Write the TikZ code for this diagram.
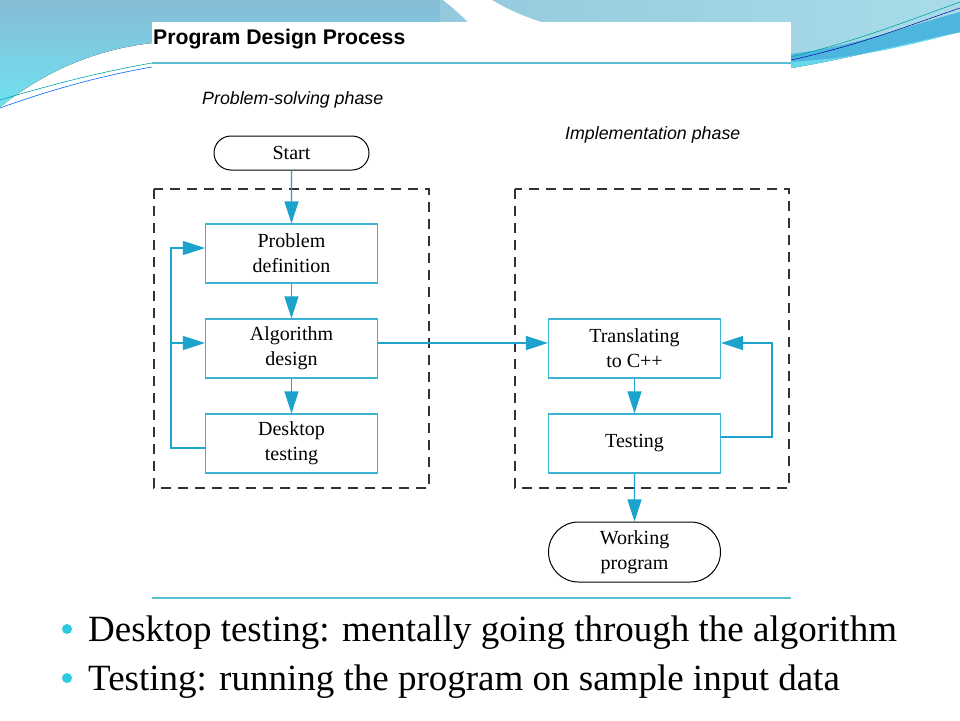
\documentclass[tikz,border=0pt]{standalone}
\usepackage{fontspec}
\setmainfont{Liberation Serif}
\setsansfont{Liberation Sans}
\usetikzlibrary{arrows.meta, positioning, shapes.misc}
\definecolor{mainCyan}{HTML}{1BA3CC}
\definecolor{boxCyan}{HTML}{3DB3D3}
\definecolor{ruleCyan}{HTML}{5BBFD3}
\definecolor{dashGray}{HTML}{333333}
\definecolor{skyTop}{HTML}{86BCD6}
\definecolor{skyLow}{HTML}{6FE2F0}
\definecolor{skyRight}{HTML}{A9DCE8}
\definecolor{bandBlue}{HTML}{4DB6DF}
\definecolor{bulletCyan}{HTML}{2CCBDD}

\tikzset{
  stepbox/.style={draw=boxCyan, line width=1.2pt, minimum width=172pt, minimum height=59pt,
    inner sep=0pt, align=center, font=\fontsize{20}{25}\selectfont},
  termbox/.style={draw=black, line width=1pt, rounded rectangle, inner sep=0pt,
    align=center, font=\fontsize{20}{25}\selectfont},
  flow/.style={draw=mainCyan, line width=1.2pt, -{Triangle[length=22pt,width=14pt]}},
  phasebox/.style={draw=dashGray, line width=1.3pt, dash pattern=on 10pt off 7pt},
  phaselabel/.style={anchor=base west, inner sep=0pt, font=\sffamily\itshape\fontsize{17.8}{20}\selectfont},
  notetext/.style={anchor=base west, inner sep=0pt, font=\fontsize{37}{40}\selectfont},
}

\begin{document}
\begin{tikzpicture}[x=1pt, y=-1pt, >=stealth]
    \useasboundingbox (0,0) rectangle (960,720);

    % slide background
    \fill[white] (0,0) rectangle (960,720);
    \fill[top color=skyTop, bottom color=skyLow] (0,0) -- (470,0) -- (470,60) -- (152,43)
        .. controls (90,50) and (40,75) .. (0,107) -- cycle;
    \fill[left color=skyTop!60!skyRight, right color=skyRight] (440,0) -- (960,0) -- (960,32)
        .. controls (900,45) and (840,60) .. (791,68) -- (440,68) -- cycle;
    \fill[bandBlue] (791,54) .. controls (860,45) and (910,25) .. (960,12) -- (960,32)
        .. controls (900,45) and (840,60) .. (791,68) -- cycle;
    \fill[skyLow!80!bandBlue] (791,62) .. controls (860,58) and (910,45) .. (960,32)
        .. controls (900,45) and (840,60) .. (791,68) -- cycle;
    \fill[white] (443,0) -- (492,0) .. controls (505,8) and (520,15) .. (541,22) -- (468,22)
        .. controls (460,14) and (452,7) .. (443,0) -- cycle;
    \draw[teal!70!cyan, line width=0.6pt] (0,100) .. controls (50,85) and (100,72) .. (152,63);
    \draw[blue!60!cyan, line width=0.6pt] (0,108) .. controls (50,90) and (100,76) .. (152,67);
    \draw[teal!70!cyan, line width=0.6pt] (791,57) .. controls (860,40) and (910,20) .. (960,2);
    \draw[blue!60!black, line width=0.5pt] (791,60) .. controls (860,45) and (910,25) .. (960,8);

    % figure area
    \fill[white] (152,22) rectangle (791,598);
    \draw[ruleCyan, line width=1.5pt] (152,63) -- (791,63);
    \draw[ruleCyan, line width=1.5pt] (152,598) -- (791,598);
    \node[anchor=base west, inner sep=0pt, font=\sffamily\bfseries\fontsize{21.2}{24}\selectfont]
        (title) at (153,44) {Program Design Process};
    \node[phaselabel] (phaseL) at (202,104) {Problem-solving phase};
    \node[phaselabel] (phaseR) at (565,139) {Implementation phase};

    \draw[phasebox] (154,189) rectangle (429,488);
    \draw[phasebox] (515,189) rectangle (789,488);

    \node[termbox, minimum width=155pt, minimum height=34pt] (start) at (291.5,153) {Start};
    \node[stepbox] (prob) at (291.5,253.5) {Problem\\definition};
    \node[stepbox] (alg) at (291.5,348.5) {Algorithm\\design};
    \node[stepbox] (desk) at (291.5,443.5) {Desktop\\testing};
    \node[stepbox] (trans) at (634.5,348.5) {Translating\\to C++};
    \node[stepbox] (test) at (634.5,443.5) {Testing};
    \node[termbox, minimum width=172pt, minimum height=60pt] (work) at (634.5,552) {Working\\program};

    \coordinate (loopL) at (171,248);
    \coordinate (loopM) at (171,343);
    \coordinate (loopR) at (772,343);

    \draw[flow] (start) -- (prob);
    \draw[flow] (prob) -- (alg);
    \draw[flow] (alg) -- (desk);
    \draw[flow] ([yshift=-4.5pt]desk.west) -| (loopL) -- ([yshift=5.5pt]prob.west);
    \draw[flow] (loopM) -- ([yshift=5.5pt]alg.west);
    \draw[flow] ([yshift=5.5pt]alg.east) -- ([yshift=5.5pt]trans.west);
    \draw[flow] (trans) -- (test);
    \draw[flow] ([yshift=6.5pt]test.east) -| (loopR) -- ([yshift=5.5pt]trans.east);
    \draw[flow] (test) -- (work);

    % notes
    \fill[bulletCyan] (67,629) circle (5pt);
    \fill[bulletCyan] (67,678) circle (5pt);
    \node[notetext] (note1) at (88,641) {Desktop testing: mentally going through the algorithm};
    \node[notetext] (note2) at (88,690) {Testing: running the program on sample input data};
\end{tikzpicture}
\end{document}
